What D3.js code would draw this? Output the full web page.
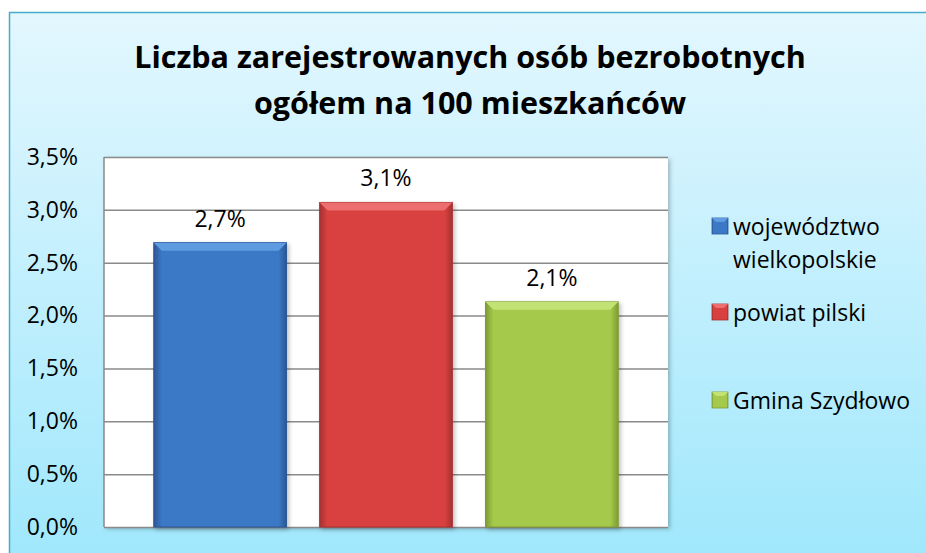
<!DOCTYPE html>
<html lang="pl">
<head>
<meta charset="UTF-8">
<title>Liczba zarejestrowanych osób bezrobotnych</title>
<script src="https://d3js.org/d3.v7.min.js"></script>
<style>
    html, body { margin: 0; padding: 0; background: #fff; }
    svg { display: block; font-family: "Open Sans", "Noto Sans", sans-serif; }
</style>
</head>
<body>
<script>

// data
const titleLines = ['Liczba zarejestrowanych osób bezrobotnych', 'ogółem na 100 mieszkańców'];
const seriesNames = ['województwo wielkopolskie', 'powiat pilski', 'Gmina Szydłowo'];
const legendLines = [['województwo', 'wielkopolskie'], ['powiat pilski'], ['Gmina Szydłowo']];
const values = [2.69, 3.07, 2.13];
const valueLabels = ['2,7%', '3,1%', '2,1%'];
const yTicks = [0, 0.5, 1.0, 1.5, 2.0, 2.5, 3.0, 3.5];
const seriesColors = [
    { main: '#3b78c6', dark: '#2b5794', light: '#5f9be0' },
    { main: '#d94141', dark: '#a83030', light: '#ec6e6e' },
    { main: '#a5ca4b', dark: '#7d9c33', light: '#c3e274' }
];

const W = 926, H = 553;
const plot = { left: 104, right: 668, top: 157, bottom: 527 };

const svg = d3.select('body').append('svg')
    .attr('width', W)
    .attr('height', H);

const defs = svg.append('defs');

const bg = defs.append('linearGradient')
    .attr('id', 'bg').attr('x1', 0).attr('y1', 0).attr('x2', 0).attr('y2', 1);
bg.append('stop').attr('offset', '0%').attr('stop-color', '#e3f7fe');
bg.append('stop').attr('offset', '100%').attr('stop-color', '#9fe7fc');

seriesColors.forEach((c, i) => {
    const g = defs.append('linearGradient')
        .attr('id', 'bar' + i).attr('x1', 0).attr('y1', 0).attr('x2', 1).attr('y2', 0);
    g.append('stop').attr('offset', '0%').attr('stop-color', c.dark);
    g.append('stop').attr('offset', '6%').attr('stop-color', c.main);
    g.append('stop').attr('offset', '94%').attr('stop-color', c.main);
    g.append('stop').attr('offset', '100%').attr('stop-color', c.dark);
});

const shadow = defs.append('filter').attr('id', 'shadow')
    .attr('x', '-5%').attr('y', '-5%').attr('width', '115%').attr('height', '115%');
shadow.append('feDropShadow')
    .attr('dx', 2).attr('dy', 2).attr('stdDeviation', 2)
    .attr('flood-color', '#000').attr('flood-opacity', 0.25);

// frame
svg.append('rect')
    .attr('x', 9.5).attr('y', 12.5)
    .attr('width', W).attr('height', H)
    .attr('fill', 'url(#bg)')
    .attr('stroke', '#46acc8')
    .attr('stroke-width', 1.5);

// title
svg.append('g').selectAll('text')
    .data(titleLines)
    .join('text')
    .attr('x', 470)
    .attr('y', (d, i) => 68 + i * 46)
    .attr('text-anchor', 'middle')
    .attr('font-size', 30.5)
    .attr('font-weight', 'bold')
    .attr('fill', '#000')
    .text(d => d);

// scales
const y = d3.scaleLinear().domain([0, 3.5]).range([plot.bottom, plot.top]);
const x = d3.scaleBand()
    .domain(seriesNames)
    .range([plot.left, plot.right])
    .paddingInner(0.2)
    .paddingOuter(0.3);

// plot area
svg.append('rect')
    .attr('x', plot.left).attr('y', plot.top)
    .attr('width', plot.right - plot.left)
    .attr('height', plot.bottom - plot.top)
    .attr('fill', '#fff')
    .attr('filter', 'url(#shadow)');

const yAxis = svg.append('g')
    .attr('transform', `translate(${plot.left},0)`)
    .call(d3.axisLeft(y)
        .tickValues(yTicks)
        .tickSize(-(plot.right - plot.left))
        .tickPadding(26)
        .tickFormat(d => d3.format('.1f')(d).replace('.', ',') + '%'));
yAxis.select('.domain').remove();
yAxis.selectAll('.tick line')
    .attr('stroke', '#8a8a8a')
    .attr('stroke-width', 1.5);
yAxis.selectAll('.tick text')
    .attr('font-size', 23)
    .attr('font-family', '"Open Sans", sans-serif')
    .attr('fill', '#000');

svg.append('line')
    .attr('x1', plot.left).attr('x2', plot.left)
    .attr('y1', plot.top).attr('y2', plot.bottom)
    .attr('stroke', '#8a8a8a').attr('stroke-width', 1.5);

// bars
const bev = 8;
const bars = svg.append('g').selectAll('g')
    .data(values)
    .join('g')
    .attr('filter', 'url(#shadow)');

bars.append('rect')
    .attr('x', (d, i) => x(seriesNames[i]))
    .attr('y', d => y(d))
    .attr('width', x.bandwidth())
    .attr('height', d => y(0) - y(d))
    .attr('fill', (d, i) => `url(#bar${i})`)
    .attr('stroke', (d, i) => seriesColors[i].dark)
    .attr('stroke-width', 1);

// top bevel
bars.append('path')
    .attr('d', (d, i) => {
        const x0 = x(seriesNames[i]), x1 = x0 + x.bandwidth(), y0 = y(d);
        return `M${x0},${y0}L${x1},${y0}L${x1 - bev},${y0 + bev}L${x0 + bev},${y0 + bev}Z`;
    })
    .attr('fill', (d, i) => seriesColors[i].light);

// value labels
svg.append('g').selectAll('text')
    .data(values)
    .join('text')
    .attr('x', (d, i) => x(seriesNames[i]) + x.bandwidth() / 2)
    .attr('y', d => y(d) - 16)
    .attr('text-anchor', 'middle')
    .attr('font-size', 23)
    .attr('fill', '#000')
    .text((d, i) => valueLabels[i]);

// legend
const legendY = [226, 312, 400];
const legend = svg.append('g').selectAll('g')
    .data(seriesNames)
    .join('g')
    .attr('transform', (d, i) => `translate(712,${legendY[i]})`);

legend.append('rect')
    .attr('x', 0).attr('y', -8)
    .attr('width', 16).attr('height', 16)
    .attr('fill', (d, i) => `url(#bar${i})`)
    .attr('stroke', (d, i) => seriesColors[i].dark)
    .attr('stroke-width', 0.8);

legend.append('path')
    .attr('d', 'M0,-8L16,-8L12,-4L4,-4Z')
    .attr('fill', (d, i) => seriesColors[i].light);

legend.append('text')
    .attr('font-size', 23)
    .attr('fill', '#000')
    .selectAll('tspan')
    .data((d, i) => legendLines[i])
    .join('tspan')
    .attr('x', 21)
    .attr('y', (d, j) => 9 + j * 33)
    .text(d => d);

</script>
</body>
</html>
